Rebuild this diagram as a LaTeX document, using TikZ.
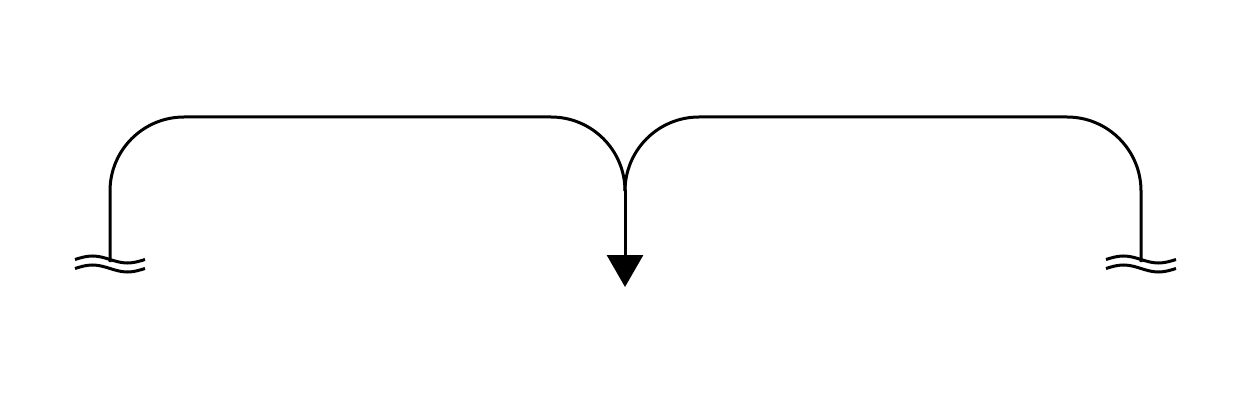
\documentclass[tikz,border=0pt]{standalone}
\usetikzlibrary{arrows.meta}

\newcommand{\breakmark}[1]{%
  \foreach \dy in {-2.5,6.5}
    \draw[flow] ([shift={(-35,\dy)}]#1) sin ++(17.5,-3.5) cos ++(17.5,3.5)
      sin ++(17.5,3.5) cos ++(17.5,-3.5);
}

\begin{document}
\begin{tikzpicture}[
  x=1pt, y=-1pt,
  flow/.style={line width=3pt, black},
  roundflow/.style={flow, rounded corners=74pt},
  arrow/.style={flow, -{Triangle[width=36pt,length=32pt]}},
]
\useasboundingbox (0,0) rectangle (1238,403);
\coordinate (srcL) at (110,262);
\coordinate (srcR) at (1141,262);
\coordinate (top) at (625,117);
\coordinate (merge) at (625,190);
\coordinate (tip) at (625,287);
\draw[roundflow] (srcL) |- (top) -- (merge);
\draw[roundflow] (srcR) |- (top) -- (merge);
\draw[arrow] (merge) -- (tip);
% cut ends
\breakmark{srcL}
\breakmark{srcR}
\end{tikzpicture}
\end{document}
